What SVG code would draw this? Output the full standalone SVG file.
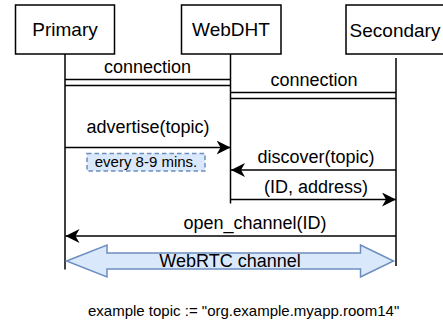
<svg xmlns="http://www.w3.org/2000/svg" width="443" height="324" viewBox="0 0 443 324">
  <defs>
    <style>
      .box { fill: #ffffff; stroke: #000000; stroke-width: 1.5; }
      .life { stroke: #000000; stroke-width: 1.5; fill: none; }
      .msg { stroke: #000000; stroke-width: 1.5; fill: none; marker-end: url(#arrow); }
      .link { stroke: #000000; stroke-width: 1.5; fill: none; }
      .title { font-family: "Liberation Sans", Arial, sans-serif; font-size: 19px; fill: #000000; text-anchor: middle; }
      .label { font-family: "Liberation Sans", Arial, sans-serif; font-size: 18px; fill: #000000; text-anchor: middle; }
      .small { font-family: "Liberation Sans", Arial, sans-serif; font-size: 15px; fill: #000000; }
      .note { fill: #dae8fc; stroke: #6c8ebf; stroke-width: 1.5; stroke-dasharray: 4.5 3; }
      .channel { fill: #dae8fc; stroke: #6c8ebf; stroke-width: 1.5; stroke-linejoin: miter; }
    </style>
    <marker id="arrow" viewBox="0 0 14 14" refX="14" refY="7" markerWidth="14" markerHeight="14" orient="auto" markerUnits="userSpaceOnUse">
      <path d="M0,0 L14,7 L0,14 L4,7 Z" fill="#000000"/>
    </marker>
  </defs>

  <!-- participants -->
  <g id="primary">
    <rect class="box" x="15.5" y="5" width="99" height="49"/>
    <text class="title" x="65" y="36">Primary</text>
  </g>
  <g id="webdht">
    <rect class="box" x="181.5" y="5" width="99.5" height="49"/>
    <text class="title" x="231" y="36">WebDHT</text>
  </g>
  <g id="secondary">
    <rect class="box" x="346" y="5" width="100" height="49"/>
    <text class="title" x="395" y="36.5">Secondary</text>
  </g>

  <!-- lifelines -->
  <g id="lifelines">
    <line class="life" x1="65" y1="54" x2="65" y2="269.5"/>
    <line class="life" x1="230.5" y1="54" x2="230.5" y2="203.5"/>
    <line class="life" x1="396" y1="58" x2="396" y2="266"/>
  </g>

  <!-- connectors -->
  <g id="connectors">
    <!-- persistent connections (double lines) -->
    <line class="link" x1="65" y1="79.5" x2="230.5" y2="79.5"/>
    <line class="link" x1="65" y1="85.5" x2="230.5" y2="85.5"/>
    <text class="label" x="147.5" y="73">connection</text>

    <line class="link" x1="231" y1="92.5" x2="396" y2="92.5"/>
    <line class="link" x1="231" y1="98.5" x2="396" y2="98.5"/>
    <text class="label" x="314" y="86">connection</text>

    <!-- messages -->
    <line class="msg" x1="65" y1="147.5" x2="230.5" y2="147.5"/>
    <text class="label" x="148" y="133">advertise(topic)</text>

    <line class="msg" x1="396" y1="170" x2="231" y2="170"/>
    <text class="label" x="316" y="163">discover(topic)</text>

    <line class="msg" x1="230.5" y1="199.5" x2="396" y2="199.5"/>
    <text class="label" x="316" y="193">(ID, address)</text>

    <line class="msg" x1="396" y1="236" x2="65.5" y2="236"/>
    <text class="label" x="255" y="229">open_channel(ID)</text>
  </g>

  <!-- repeat interval note -->
  <g id="interval-note">
    <rect class="note" x="87" y="153.5" width="118" height="17.5"/>
    <text class="small" x="146" y="167.3" text-anchor="middle">every 8-9 mins.</text>
  </g>

  <!-- peer-to-peer channel -->
  <g id="webrtc-channel">
    <polygon class="channel" points="66.5,261 107,245 107,253 360.5,253 360.5,245 393.5,261 360.5,277 360.5,269 107,269 107,277"/>
    <text class="label" x="230" y="267">WebRTC channel</text>
  </g>

  <!-- footnote -->
  <g id="footnote">
    <text class="small" x="88" y="316">example topic := "org.example.myapp.room14"</text>
  </g>
</svg>
